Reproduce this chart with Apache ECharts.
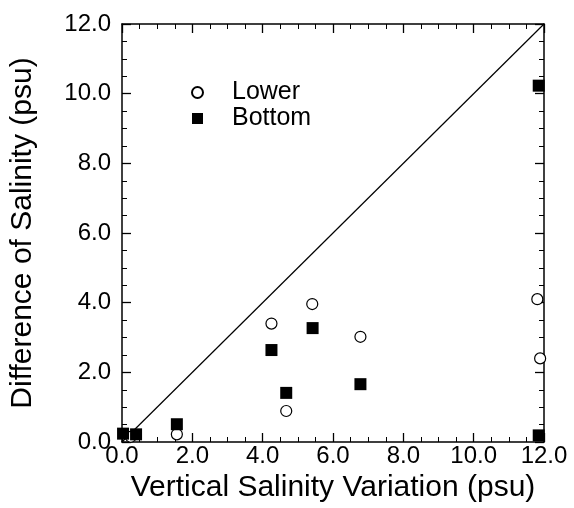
<!DOCTYPE html>
<html>
<head>
<meta charset="utf-8">
<script src="https://cdn.jsdelivr.net/npm/echarts@6/dist/echarts.min.js"></script>
<style>
html,body{margin:0;padding:0;background:#fff;}
#chart{width:574px;height:508px;}
</style>
</head>
<body>
<div id="chart"></div>
<script>
var xTitle = 'Vertical Salinity Variation (psu)';
var yTitle = 'Difference of Salinity (psu)';
var seriesNames = ['Lower', 'Bottom'];
var lowerX = [0.25, 1.56, 4.25, 4.67, 5.41, 6.78, 11.81, 11.89];
var lowerY = [0.15, 0.22, 3.40, 0.89, 3.96, 3.02, 4.10, 2.40];
var bottomX = [0.03, 0.40, 1.56, 4.25, 4.67, 5.42, 6.78, 11.85, 11.85];
var bottomY = [0.24, 0.22, 0.51, 2.64, 1.41, 3.27, 1.66, 10.23, 0.19];
var lineX = [0, 12];
var lineY = [0, 12];
var axisMin = 0, axisMax = 12, axisStep = 2;

function pairs(xs, ys){ return xs.map(function(v,i){ return [v, ys[i]]; }); }

var font = 'Liberation Sans, Arial, Helvetica, sans-serif';
var tickFmt = function(v){ return v.toFixed(1); };

var baseAxis = {
  min: axisMin, max: axisMax, interval: axisStep,
  axisLine: {show: true, onZero: false, lineStyle: {color: '#000', width: 1.5}},
  axisTick: {show: true, inside: true, length: 9, lineStyle: {color: '#000', width: 1.3}},
  minorTick: {show: true, splitNumber: 4, length: 5, lineStyle: {color: '#000', width: 1}},
  splitLine: {show: false},
  minorSplitLine: {show: false}
};

var chart = echarts.init(document.getElementById('chart'), null, {renderer: 'canvas'});
chart.setOption({
  backgroundColor: '#fff',
  animation: false,
  grid: {left: 121, right: 30, top: 24, bottom: 66},
  legend: {
    orient: 'vertical', left: 186, top: 75, itemGap: 1,
    itemWidth: 11, itemHeight: 11,
    textStyle: {fontFamily: font, fontSize: 25, color: '#000', padding: [0, 0, 0, 24]},
    data: seriesNames
  },
  xAxis: [
    Object.assign({}, baseAxis, {
      type: 'value', position: 'bottom',
      name: xTitle, nameLocation: 'middle', nameGap: 27,
      nameTextStyle: {fontFamily: font, fontSize: 30, color: '#000'},
      axisLabel: {show: true, margin: 2, formatter: tickFmt, fontFamily: font, fontSize: 24, color: '#000'}
    }),
    Object.assign({}, baseAxis, {
      type: 'value', position: 'top',
      axisLabel: {show: false}
    })
  ],
  yAxis: [
    Object.assign({}, baseAxis, {
      type: 'value', position: 'left',
      name: yTitle, nameLocation: 'middle', nameGap: 84,
      nameTextStyle: {fontFamily: font, fontSize: 30, color: '#000'},
      axisLabel: {show: true, margin: 11, formatter: tickFmt, fontFamily: font, fontSize: 24, color: '#000'}
    }),
    Object.assign({}, baseAxis, {
      type: 'value', position: 'right',
      axisLabel: {show: false}
    })
  ],
  series: [
    {
      type: 'line', data: pairs(lineX, lineY), showSymbol: false, symbol: 'none',
      lineStyle: {color: '#000', width: 1.2}, silent: true, z: 1
    },
    {
      name: seriesNames[0], type: 'scatter', data: pairs(lowerX, lowerY),
      symbol: 'circle', symbolSize: 11,
      itemStyle: {color: '#fff', borderColor: '#000', borderWidth: 1.2, opacity: 1},
      z: 3
    },
    {
      name: seriesNames[1], type: 'scatter', data: pairs(bottomX, bottomY),
      symbol: 'rect', symbolSize: 12,
      itemStyle: {color: '#000', opacity: 1},
      z: 4
    }
  ]
});
</script>
</body>
</html>
